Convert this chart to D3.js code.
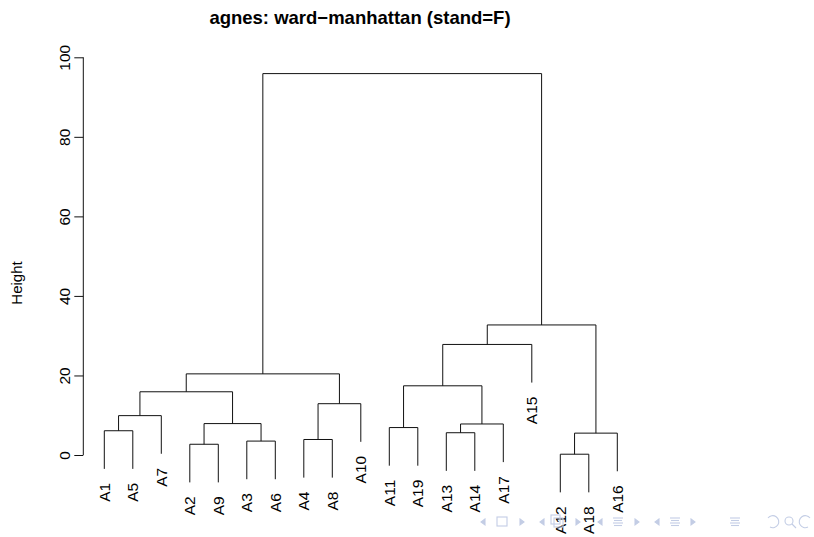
<!DOCTYPE html>
<html>
<head>
<meta charset="utf-8">
<script src="https://cdn.jsdelivr.net/npm/d3@7/dist/d3.min.js"></script>
<style>
  body { margin: 0; background: #fff; }
  svg text { font-family: "Liberation Sans", Arial, Helvetica, sans-serif; fill: #000; }
</style>
</head>
<body>
<div id="chart"></div>
<script>
// leaf order along the x axis (as plotted)
var leafOrder = ["A1", "A5", "A7", "A2", "A9", "A3", "A6", "A4", "A8", "A10",
                 "A11", "A19", "A13", "A14", "A17", "A15", "A12", "A18", "A16"];

// merge table, R style: negative = leaf A<k>, positive = earlier merge step
var mergeLeft   = [-12, -2, -3, -4, -13, -1, -11, 5, 2, 6, 4, 1, 10, 7, 13, 14, 16, 15];
var mergeRight  = [-18, -9, -6, -8, -14, -5, -19, -17, 3, -7, -10, -16, 9, 8, 11, -15, 12, 17];
var mergeHeight = [0.2, 2.7, 3.5, 3.9, 5.6, 6.1, 6.9, 7.8, 7.9, 9.9, 12.9, 5.5, 15.9, 17.4, 20.4, 27.8, 32.7, 95.9];

var yTicks = [0, 20, 40, 60, 80, 100];

var svgWidth = 814;
var svgHeight = 537;

var svg = d3.select("#chart")
  .append("svg")
  .attr("width", svgWidth)
  .attr("height", svgHeight);

// scales
var xScale = d3.scalePoint()
  .domain(leafOrder)
  .range([104.3, 617.3]);

var yScale = d3.scaleLinear()
  .domain([0, 100])
  .range([455, 57.3]);

var axisX = 83.3;
var hang = 0.1 * d3.max(mergeHeight);

// x position and height of every node
var nodeX = [], nodeH = [];
function childX(c) { return c < 0 ? xScale("A" + (-c)) : nodeX[c - 1]; }
function childTop(c, h) { return c < 0 ? h - hang : nodeH[c - 1]; }

var segs = [];
mergeHeight.forEach(function(h, i) {
  var l = mergeLeft[i], r = mergeRight[i];
  var x1 = childX(l), x2 = childX(r);
  nodeX[i] = (x1 + x2) / 2;
  nodeH[i] = h;
  segs.push({ x1: x1, x2: x2, h1: childTop(l, h), h2: childTop(r, h), h: h });
});

var tree = svg.append("g");
tree.selectAll("path")
  .data(segs)
  .enter()
  .append("path")
  .attr("d", function(d) {
    return "M" + d.x1 + "," + yScale(d.h1) +
      "V" + yScale(d.h) + "H" + d.x2 + "V" + yScale(d.h2);
  })
  .attr("fill", "none")
  .attr("stroke", "#111")
  .attr("stroke-width", 1);

// leaf labels: find bottom of each leaf line
var leafBottom = {};
mergeHeight.forEach(function(h, i) {
  [mergeLeft[i], mergeRight[i]].forEach(function(c) {
    if (c < 0) leafBottom["A" + (-c)] = h - hang;
  });
});

tree.selectAll("text.leaf")
  .data(leafOrder)
  .enter()
  .append("text")
  .attr("class", "leaf")
  .attr("transform", function(d) {
    return "translate(" + xScale(d) + "," + (yScale(leafBottom[d]) + 14) + ") rotate(-90)";
  })
  .attr("text-anchor", "end")
  .attr("dy", "0.35em")
  .attr("font-size", "15.5px")
  .text(function(d) { return d; });

// y axis
var leftAxis = d3.axisLeft(yScale)
  .tickValues(yTicks)
  .tickSize(9)
  .tickFormat(d3.format("d"));

var yAxisG = svg.append("g")
  .attr("transform", "translate(" + axisX + ",0)")
  .call(leftAxis);

yAxisG.select(".domain").attr("d", "M0," + yScale(0) + "V" + yScale(100)).attr("stroke", "#111");
yAxisG.selectAll(".tick line").attr("stroke", "#111");
yAxisG.selectAll(".tick text")
  .attr("x", null)
  .attr("dy", "0.35em")
  .attr("y", -18.5)
  .attr("transform", "rotate(-90)")
  .attr("text-anchor", "middle")
  .attr("font-family", "Liberation Sans, Arial, sans-serif")
  .attr("font-size", "15.5px")
  .attr("fill", "#000");

// axis title
svg.append("text")
  .attr("transform", "translate(17,283) rotate(-90)")
  .attr("text-anchor", "middle")
  .attr("dy", "0.35em")
  .attr("font-size", "15px")
  .text("Height");

// main title
svg.append("text")
  .attr("x", 360)
  .attr("y", 24)
  .attr("text-anchor", "middle")
  .attr("font-size", "18.5px")
  .attr("font-weight", "bold")
  .text("agnes: ward\u2212manhattan (stand=F)");

// beamer navigation symbols (slide decoration, bottom right)
var nav = svg.append("g")
  .attr("fill", "none")
  .attr("stroke", "#c3cde5")
  .attr("stroke-width", 1.1);
var navY = 522;
function triL(x) { nav.append("path").attr("d", "M" + (x + 2) + "," + (navY - 3) + "L" + (x - 2) + "," + navY + "L" + (x + 2) + "," + (navY + 3) + "Z").attr("fill", "#c3cde5"); }
function triR(x) { nav.append("path").attr("d", "M" + (x - 2) + "," + (navY - 3) + "L" + (x + 2) + "," + navY + "L" + (x - 2) + "," + (navY + 3) + "Z").attr("fill", "#c3cde5"); }
function lines(x) {
  [-4, -1.5, 1, 3.5].forEach(function(o, k) {
    nav.append("line").attr("x1", x - (k % 2 ? 4 : 5)).attr("x2", x + (k % 2 ? 4 : 5))
      .attr("y1", navY + o).attr("y2", navY + o);
  });
}
triL(483); nav.append("rect").attr("x", 497).attr("y", navY - 5).attr("width", 10).attr("height", 9); triR(522);
triL(542); nav.append("rect").attr("x", 551).attr("y", navY - 7).attr("width", 9).attr("height", 9);
nav.append("rect").attr("x", 554).attr("y", navY - 4).attr("width", 9).attr("height", 9); triR(578);
triL(600); lines(618); triR(637);
triL(657); lines(675); triR(693);
lines(735);
nav.append("path").attr("d", "M768,518 A6,6 0 1 1 770,527");
nav.append("circle").attr("cx", 789).attr("cy", navY - 1).attr("r", 4);
nav.append("line").attr("x1", 792).attr("y1", navY + 2).attr("x2", 796).attr("y2", navY + 6);
nav.append("path").attr("d", "M810,518 A6,6 0 1 0 808,527");
</script>
</body>
</html>
